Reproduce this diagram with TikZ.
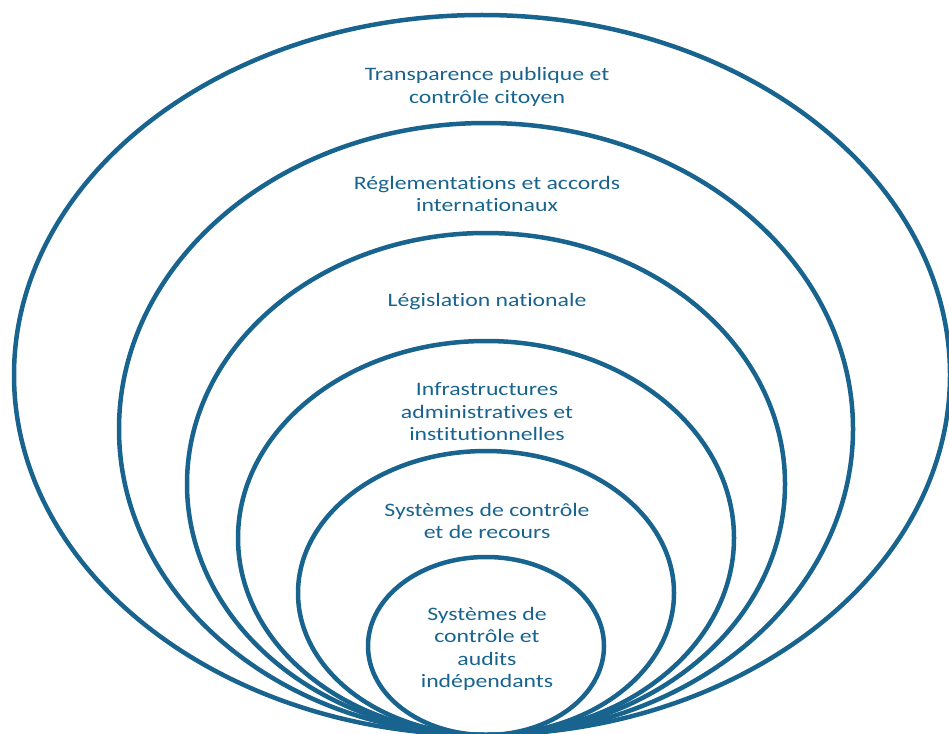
\documentclass[tikz,border=0pt]{standalone}
\usepackage{fontspec}
\setmainfont{Carlito}[FakeStretch=1.25, RawFeature={-liga;-clig;-calt}]
\usepackage{xcolor}
\usepackage{tikz}
\usetikzlibrary{positioning}
\definecolor{ringblue}{RGB}{24,100,142}

\begin{document}
\begin{tikzpicture}[x=1pt, y=-1pt,
  ring/.style={draw=ringblue, line width=4.5pt},
  layer/.style={text=ringblue, align=center, font=\fontsize{19}{22.5}\selectfont}]
  \useasboundingbox (0,0) rectangle (949,733);
  % nested rings, all touching at the bottom
  \draw[ring] (482,375) ellipse [x radius=468pt, y radius=360pt];
  \draw[ring] (486,429) ellipse [x radius=367pt, y radius=306pt];
  \draw[ring] (486,484) ellipse [x radius=299pt, y radius=251pt];
  \draw[ring] (486,538) ellipse [x radius=248pt, y radius=197pt];
  \draw[ring] (486,593) ellipse [x radius=188pt, y radius=142pt];
  \draw[ring] (486,646) ellipse [x radius=118pt, y radius=89pt];
  % labels
  \node[layer] (transp) at (487,87) {Transparence publique et\\contrôle citoyen};
  \node[layer] (regl) at (487,194) {Réglementations et accords\\internationaux};
  \node[layer] (legis) at (487,302) {Législation nationale};
  \node[layer] (infra) at (487,412) {Infrastructures\\administratives et\\institutionnelles};
  \node[layer] (recours) at (487,521) {Systèmes de contrôle\\et de recours};
  \node[layer] (audits) at (487,649) {Systèmes de\\contrôle et\\audits\\indépendants};
\end{tikzpicture}
\end{document}
